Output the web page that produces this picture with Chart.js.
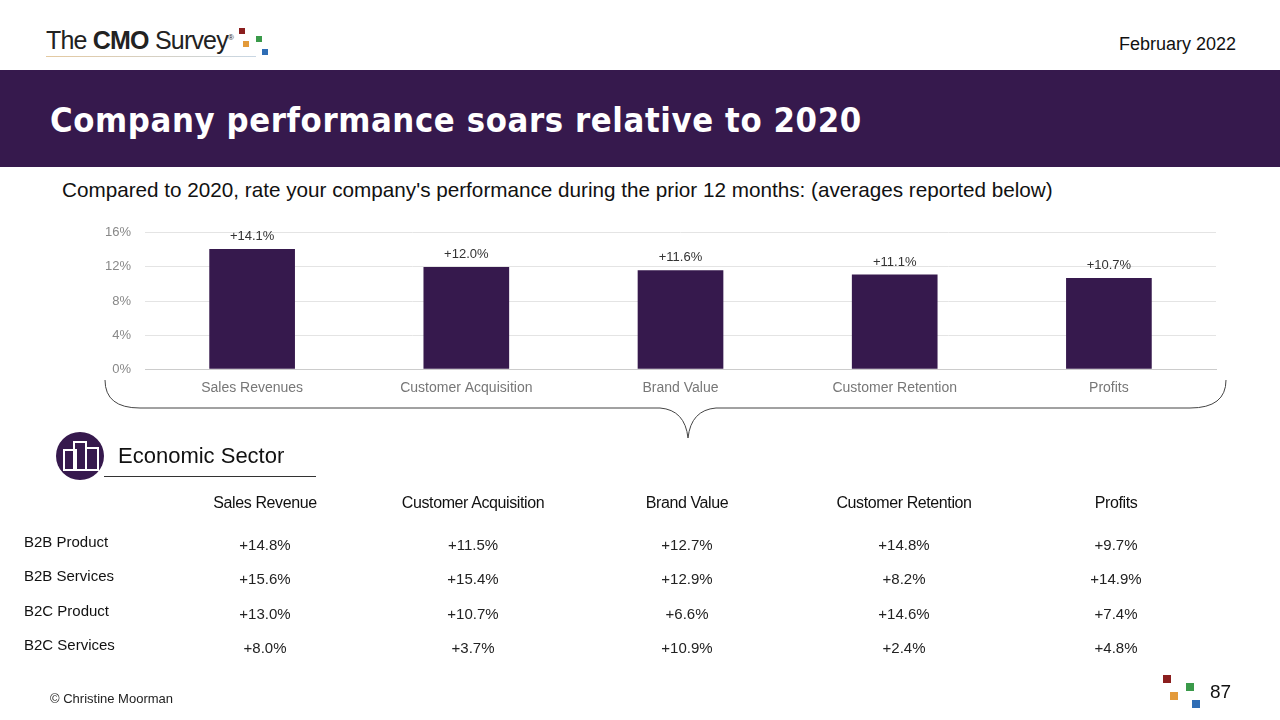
<!DOCTYPE html>
<html><head><meta charset="utf-8">
<script src="https://cdn.jsdelivr.net/npm/chart.js@4"></script>
<style>
body{margin:0;width:1280px;height:720px;position:relative;overflow:hidden;background:#fff;font-family:"Liberation Sans",Roboto,sans-serif}
.a{position:absolute;white-space:nowrap}
#band{position:absolute;left:0;top:70px;width:1280px;height:97px;background:#36194d}
</style></head><body>
<div class="a" style="left:46px;top:26px;font-size:25px;color:#222;letter-spacing:-0.8px">The <b>CMO</b> Survey<sup style="font-size:8px">®</sup></div>
<div class="a" style="left:46px;top:56px;width:210px;height:1px;background:linear-gradient(90deg,#e4c9a0,#c9d7e4)"></div>
<div class="a" style="left:239px;top:28px;width:6px;height:6px;background:#8b1e1e"></div>
<div class="a" style="left:243px;top:41px;width:6px;height:6px;background:#e39a3a"></div>
<div class="a" style="left:256px;top:36px;width:6px;height:6px;background:#3a9a4a"></div>
<div class="a" style="left:262px;top:49px;width:6px;height:6px;background:#2f6db5"></div>
<div class="a" style="right:44px;top:34px;font-size:18px;color:#111">February 2022</div>
<div id="band"></div>
<div class="a" style="left:50px;top:100px;font-size:34.3px;font-weight:bold;color:#fff;font-family:'DejaVu Sans Condensed','DejaVu Sans';letter-spacing:0.6px">Company performance soars relative to 2020</div>
<div class="a" style="left:62px;top:178px;font-size:20.7px;color:#111">Compared to 2020, rate your company's performance during the prior 12 months: (averages reported below)</div>
<div class="a" style="left:91px;top:211px;width:1139px;height:189px"><canvas id="c"></canvas></div>
<svg class="a" style="left:0;top:0" width="1280" height="720"><path d="M105,380 Q105,408 140,408 L660,408 Q685,410 688,438 Q691,410 716,408 L1190,408 Q1226,408 1226,380" fill="none" stroke="#444" stroke-width="1"/></svg>
<div class="a" style="left:56px;top:432px;width:48px;height:48px;border-radius:50%;background:#36194d"></div>
<svg class="a" style="left:62px;top:440px" width="38" height="32"><g fill="none" stroke="#fff" stroke-width="2"><rect x="2" y="10" width="12" height="20"/><rect x="12" y="2" width="12" height="28"/><rect x="24" y="8" width="12" height="22"/></g></svg>
<div class="a" style="left:118px;top:443px;font-size:22px;color:#111">Economic Sector</div>
<div class="a" style="left:104px;top:476px;width:212px;height:1px;background:#333"></div>
<div id="tbl"></div>
<div class="a" style="left:50px;top:691px;font-size:13px;color:#222">© Christine Moorman</div>
<div class="a" style="left:1163px;top:675px;width:8px;height:8px;background:#8b1e1e"></div>
<div class="a" style="left:1170px;top:692px;width:8px;height:8px;background:#e39a3a"></div>
<div class="a" style="left:1186px;top:683px;width:8px;height:8px;background:#3a9a4a"></div>
<div class="a" style="left:1192px;top:700px;width:8px;height:8px;background:#2f6db5"></div>
<div class="a" style="left:1210px;top:681px;font-size:19px;color:#111">87</div>
<script>
const categories=["Sales Revenues","Customer Acquisition","Brand Value","Customer Retention","Profits"];
const values=[14.1,12.0,11.6,11.1,10.7];
const yTicks=[0,4,8,12,16];
const tableHeaders=["Sales Revenue","Customer Acquisition","Brand Value","Customer Retention","Profits"];
const sectors=["B2B Product","B2B Services","B2C Product","B2C Services"];
const sectorValues=[[14.8,11.5,12.7,14.8,9.7],[15.6,15.4,12.9,8.2,14.9],[13.0,10.7,6.6,14.6,7.4],[8.0,3.7,10.9,2.4,4.8]];

const colX=[265,473,687,904,1116];
let h='';
tableHeaders.forEach((t,i)=>h+=`<div class="a" style="left:${colX[i]}px;top:494px;transform:translateX(-50%);font-size:16px;color:#111;letter-spacing:-0.4px">${t}</div>`);
sectors.forEach((s,r)=>{const y=533+r*34.3;
 h+=`<div class="a" style="left:24px;top:${y}px;font-size:15px;color:#111">${s}</div>`;
 sectorValues[r].forEach((v,i)=>h+=`<div class="a" style="left:${colX[i]}px;top:${y+3}px;transform:translateX(-50%);font-size:15px;color:#222">+${v.toFixed(1)}%</div>`);});
document.getElementById('tbl').innerHTML=h;

const lbl={id:'lbl',afterDatasetsDraw(ch){const ctx=ch.ctx;ctx.save();ctx.font='13px "Liberation Sans"';ctx.fillStyle='#333';ctx.textAlign='center';
 ch.getDatasetMeta(0).data.forEach((b,i)=>{ctx.fillText('+'+values[i].toFixed(1)+'%',b.x,b.y-9);});ctx.restore();}};
new Chart(document.getElementById('c'),{type:'bar',
 data:{labels:categories,datasets:[{data:values,backgroundColor:'#36194d',barPercentage:0.4,categoryPercentage:1}]},
 options:{responsive:true,maintainAspectRatio:false,animation:false,layout:{padding:{top:8,right:14}},
  plugins:{legend:{display:false},tooltip:{enabled:false}},
  scales:{y:{min:0,max:16,afterBuildTicks:a=>{a.ticks=yTicks.map(v=>({value:v}))},ticks:{callback:v=>v+'%',color:'#888',font:{size:13,family:'Liberation Sans'},padding:14},grid:{color:'#e4e4e4',drawTicks:false},border:{display:false}},
   x:{ticks:{color:'#777',font:{size:14,family:'Liberation Sans'},padding:3},grid:{display:false},border:{color:'#ccc'}}}},
 plugins:[lbl]});
</script></body></html>
